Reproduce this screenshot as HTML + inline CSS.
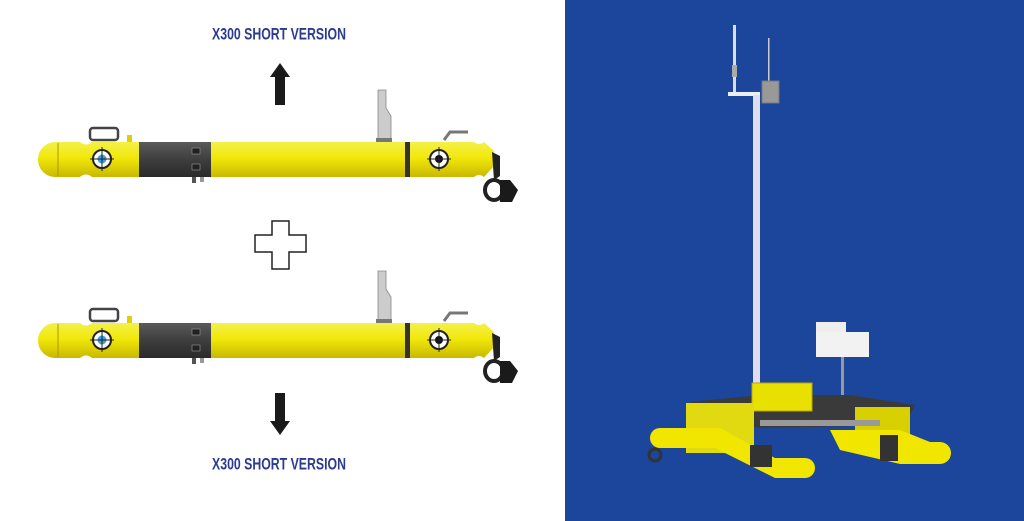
<!DOCTYPE html>
<html><head><meta charset="utf-8"><style>
html,body{margin:0;padding:0;background:#fff;width:1024px;height:521px;overflow:hidden}
</style></head><body>
<svg width="1024" height="521" viewBox="0 0 1024 521" xmlns="http://www.w3.org/2000/svg">
<defs>
<linearGradient id="yb" x1="0" y1="0" x2="0" y2="1">
<stop offset="0" stop-color="#f4f04a"/><stop offset="0.45" stop-color="#f1e80a"/><stop offset="1" stop-color="#c9b800"/>
</linearGradient>
<linearGradient id="db" x1="0" y1="0" x2="0" y2="1">
<stop offset="0" stop-color="#5a5a5a"/><stop offset="0.5" stop-color="#3e3e3e"/><stop offset="1" stop-color="#2a2a2a"/>
</linearGradient>
<g id="auv">
<!-- handle -->
<rect x="90" y="-14" width="28" height="12" rx="3" fill="none" stroke="#444" stroke-width="2.5"/>
<rect x="127" y="-7" width="5" height="7" fill="#e0d000"/>
<!-- antenna -->
<path d="M378 -52 h8 v18 l5 8 v24 h-13z" fill="#ccc" stroke="#888" stroke-width="0.8"/>
<rect x="376" y="-4" width="16" height="4" fill="#777"/>
<!-- rear handle -->
<path d="M444 -2 l6 -8 h18" fill="none" stroke="#777" stroke-width="3"/>
<!-- nose -->
<path d="M55 0 H80 q6 5 12 0 H139 V35 H92 q-6 -5 -12 0 H55 a17 17.5 0 0 1 0 -35z" fill="url(#yb)"/>
<line x1="58" y1="1" x2="58" y2="34" stroke="#aa9900" stroke-width="1"/>
<!-- dark section -->
<rect x="139" y="0" width="72" height="35" fill="url(#db)"/>
<rect x="192" y="6" width="8" height="6" fill="#222" stroke="#999" stroke-width="0.6"/>
<rect x="192" y="22" width="8" height="6" fill="#222" stroke="#999" stroke-width="0.6"/>
<rect x="192" y="35" width="4" height="6" fill="#555"/><rect x="200" y="35" width="4" height="5" fill="#999"/>
<!-- main body -->
<rect x="211" y="0" width="259" height="35" fill="url(#yb)"/>
<rect x="405" y="0" width="5" height="35" fill="#333"/>
<!-- tail -->
<path d="M470 0 H474 q5 4 10 0 L494 9 V24 L484 35 q-5 -4 -10 0 H470z" fill="url(#yb)"/>
<!-- ports -->
<circle cx="102" cy="17" r="9" fill="#fff" stroke="#222" stroke-width="2"/>
<circle cx="102" cy="17" r="4.5" fill="#3aa0e0"/>
<line x1="90" y1="17" x2="114" y2="17" stroke="#222" stroke-width="1"/><line x1="102" y1="5" x2="102" y2="29" stroke="#222" stroke-width="1"/>
<circle cx="439" cy="17" r="9" fill="#fff" stroke="#222" stroke-width="2"/>
<circle cx="439" cy="17" r="4" fill="#111"/>
<line x1="427" y1="17" x2="451" y2="17" stroke="#222" stroke-width="1"/><line x1="439" y1="5" x2="439" y2="29" stroke="#222" stroke-width="1"/>
<!-- thruster -->
<path d="M492 10 l8 4 v20 l-6 4z" fill="#222"/>
<ellipse cx="494" cy="48" rx="9" ry="10" fill="none" stroke="#222" stroke-width="4"/>
<path d="M500 38 h10 l8 10 l-6 12 h-12z" fill="#1a1a1a"/>
</g>
</defs>
<rect x="565" y="0" width="459" height="521" fill="#1c459c"/>
<text x="279" y="39" text-anchor="middle" font-family="Liberation Sans, sans-serif" font-weight="bold" font-size="15" fill="#2b3b8f" transform="translate(279 0) scale(0.82 1.1) translate(-279 -3)">X300 SHORT VERSION</text>
<text x="279" y="470" text-anchor="middle" font-family="Liberation Sans, sans-serif" font-weight="bold" font-size="15" fill="#2b3b8f" transform="translate(279 0) scale(0.82 1.1) translate(-279 -43)">X300 SHORT VERSION</text>
<!-- arrows -->
<path d="M275 105 V77 H270 L280 63 L290 77 H285 V105z" fill="#1a1a1a"/>
<path d="M275 393 V421 H270 L280 435 L290 421 H285 V393z" fill="#1a1a1a"/>
<!-- plus -->
<path d="M272 221 H289 V235 H306 V252 H289 V269 H272 V252 H255 V235 H272z" fill="#fff" stroke="#222" stroke-width="1.5"/>
<use href="#auv" transform="translate(0 142)"/>
<use href="#auv" transform="translate(0 323)"/>
<!-- right: mast -->
<rect x="733" y="25" width="3" height="70" fill="#ddd"/>
<rect x="732" y="65" width="5" height="12" fill="#aaa"/>
<rect x="768" y="38" width="1.5" height="45" fill="#ccc"/>
<rect x="728" y="92" width="32" height="4" fill="#eee"/>
<rect x="753" y="95" width="7" height="300" fill="#dde"/>
<rect x="762" y="81" width="17" height="22" fill="#999" stroke="#777"/>
<!-- white box -->
<path d="M816 322 h30 v10 h23 v25 h-53z" fill="#eee"/>
<rect x="816" y="332" width="53" height="25" fill="#f2f2f2"/>
<rect x="841" y="357" width="3" height="50" fill="#999"/>
<!-- frame -->
<path d="M690 402 L760 395 L850 395 L915 405 L905 425 L760 428 L700 415z" fill="#3a3a3a"/>
<rect x="752" y="383" width="60" height="28" fill="#e8e000" stroke="#bba800"/>
<path d="M686 403 h68 v50 h-68z" fill="#e2da10"/>
<path d="M855 407 h55 v38 h-55z" fill="#d8d000"/>
<rect x="760" y="420" width="120" height="6" fill="#999"/>
<!-- floats -->
<path d="M660 428 h60 l55 30 h30 a10 10 0 0 1 0 20 h-30 l-60 -30 h-55 a10 10 0 0 1 0 -20z" fill="#f0e600"/>
<rect x="750" y="445" width="22" height="22" fill="#333"/>
<circle cx="655" cy="455" r="6" fill="none" stroke="#333" stroke-width="3"/>
<path d="M830 430 h70 l30 12 h10 a10 10 0 0 1 0 22 h-40 l-60 -14z" fill="#f0e600"/>
<rect x="880" y="435" width="18" height="26" fill="#333"/>
</svg>
</body></html>
